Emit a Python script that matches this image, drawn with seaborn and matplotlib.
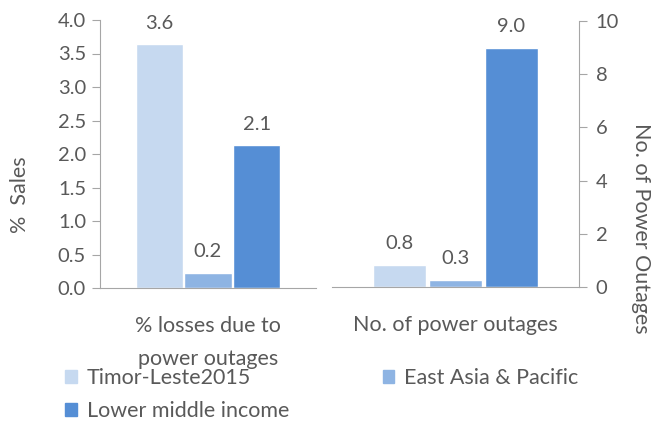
import pandas as pd
import numpy as np
import seaborn as sns
import matplotlib.pyplot as plt
from matplotlib.patches import Patch

# data
regions = ['Timor-Leste2015', 'East Asia & Pacific', 'Lower middle income']
colors = ['#C6D9F0', '#8EB4E3', '#558ED5']
losses = [3.64, 0.23, 2.13]
outages = [0.83, 0.27, 9.0]
left_cat = '% losses due to\npower outages'
right_cat = 'No. of power outages'

sns.set_style('white')
plt.rcParams['font.family'] = ['Lato', 'DejaVu Sans']
grey = '#595959'
spine = '#A6A6A6'
fs = 15.5
fs_tick = 14.5

df_l = pd.DataFrame({'cat': [left_cat] * 3, 'region': regions, 'value': losses})
df_r = pd.DataFrame({'cat': [right_cat] * 3, 'region': regions, 'value': outages})

fig = plt.figure(figsize=(6.52, 4.22), dpi=100)
ax1 = fig.add_axes([100 / 652, 1 - 288 / 422, 216 / 652, 268 / 422])
ax2 = fig.add_axes([332 / 652, 1 - 287 / 422, 247 / 652, 266 / 422])

for ax, d in [(ax1, df_l), (ax2, df_r)]:
    sns.barplot(data=d, x='cat', y='value', hue='region', hue_order=regions,
                palette=colors, width=0.68, gap=0.04, legend=False, ax=ax,
                saturation=1)
    for c in ax.containers:
        ax.bar_label(c, fmt='%.1f', padding=9, color=grey, fontsize=fs_tick)
    ax.set_xlim(-0.5, 0.5)
    ax.set_xticks([-0.5, 0.5], labels=['', ''])
    ax.tick_params(axis='x', which='major', length=8, color=spine, direction='out')
    # category label under the group
    ax.annotate(d['cat'][0], xy=(0, 0), xycoords=('data', 'axes fraction'),
                xytext=(0, -20), textcoords='offset points', ha='center',
                va='top', color=grey, fontsize=fs, linespacing=1.85)
    ax.set_xlabel('')
    ax.set_ylabel('')
    for s in ax.spines.values():
        s.set_color(spine)
    ax.spines['top'].set_visible(False)

ax1.set_ylim(0, 4)
ax1.set_yticks(np.arange(0, 4.01, 0.5))
ax1.yaxis.set_major_formatter('{x:.1f}')
ax1.spines['right'].set_visible(False)
ax1.tick_params(axis='y', length=6, color=spine, left=True, labelsize=fs_tick,
                labelcolor=grey, pad=4)

ax2.set_ylim(0, 10)
ax2.set_yticks(range(0, 11, 2))
ax2.yaxis.tick_right()
ax2.spines['left'].set_visible(False)
ax2.tick_params(axis='y', length=6, color=spine, right=True, labelsize=fs_tick,
                labelcolor=grey, pad=6)

fig.text(20 / 652, 1 - 195 / 422, '%  Sales', rotation=90, ha='center',
         va='center', color=grey, fontsize=fs)
fig.text(641 / 652, 1 - 228 / 422, 'No. of Power Outages', rotation=270,
         ha='center', va='center', color=grey, fontsize=fs)

handles = [Patch(color=colors[0], label=regions[0]),
           Patch(color=colors[2], label=regions[2]),
           Patch(color=colors[1], label=regions[1])]
fig.legend(handles=handles, ncol=2, loc='upper left',
           bbox_to_anchor=(65 / 652, 1 - 368 / 422), frameon=False,
           fontsize=fs, labelcolor=grey, handlelength=0.55, handleheight=0.55,
           handletextpad=0.45, columnspacing=4.35, labelspacing=0.6,
           borderpad=0, borderaxespad=0)

fig.savefig('out.png', dpi=100)
